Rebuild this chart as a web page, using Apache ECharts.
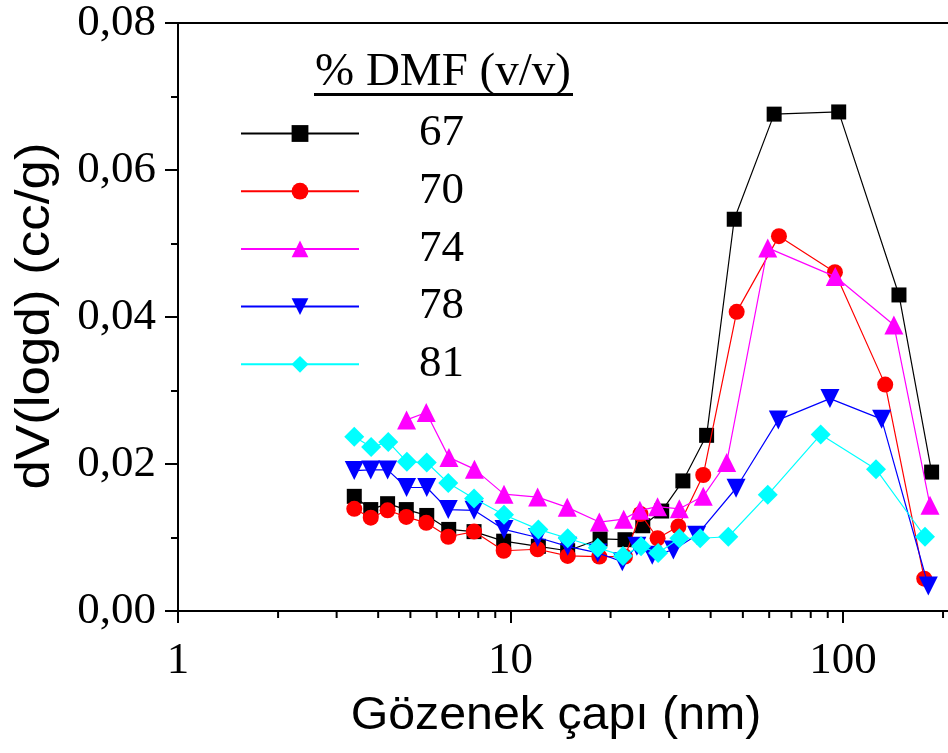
<!DOCTYPE html>
<html>
<head>
<meta charset="utf-8">
<script src="https://cdn.jsdelivr.net/npm/echarts@6/dist/echarts.min.js"></script>
<style>html,body{margin:0;padding:0;background:#fff}#c{width:948px;height:753px}</style>
</head>
<body>
<div id="c"></div>
<script>
// ---- data ----
const seriesNames = ['67', '70', '74', '78', '81'];
const legendTitle = '% DMF (v/v)';
const xTitle = 'Gözenek çapı (nm)';
const yTitle = 'dV(logd) (cc/g)';
const xMinorTickValues = [2,3,4,5,6,7,8,9,20,30,40,50,60,70,80,90,200];

const x67 = [3.39, 3.80, 4.27, 4.86, 5.60, 6.52, 7.77, 9.54, 12.13, 14.86, 18.6, 22.1, 25.0, 28.5, 33.0, 38.9, 47.1, 62.1, 97.1, 147.4, 184.8];
const y67 = [0.0156, 0.0138, 0.0146, 0.0138, 0.0130, 0.0111, 0.0108, 0.0095, 0.0088, 0.0082, 0.0098, 0.0097, 0.0116, 0.0136, 0.0177, 0.0239, 0.0533, 0.0676, 0.0679, 0.0430, 0.0189];

const x70 = [3.39, 3.80, 4.27, 4.86, 5.58, 6.50, 7.77, 9.54, 12.07, 14.86, 18.5, 22.1, 24.6, 27.7, 32.0, 38.0, 47.9, 64.2, 94.6, 134.0, 175.6];
const y70 = [0.0139, 0.0127, 0.0137, 0.0128, 0.0120, 0.0101, 0.0108, 0.0082, 0.0084, 0.0075, 0.0074, 0.0074, 0.0132, 0.0099, 0.0115, 0.0185, 0.0407, 0.0510, 0.0461, 0.0308, 0.0044];

const x74 = [4.87, 5.58, 6.53, 7.79, 9.56, 12.07, 14.82, 18.5, 21.9, 24.5, 27.7, 32.2, 38.0, 44.7, 59.4, 94.8, 142.3, 182.7];
const y74 = [0.0260, 0.0270, 0.0209, 0.0193, 0.0159, 0.0155, 0.0141, 0.0121, 0.0125, 0.0137, 0.0142, 0.0139, 0.0156, 0.0202, 0.0494, 0.0455, 0.0389, 0.0144];

const x78 = [3.39, 3.80, 4.27, 4.87, 5.60, 6.50, 7.77, 9.56, 12.07, 14.86, 18.3, 21.7, 24.0, 26.7, 30.9, 36.3, 47.7, 63.9, 91.4, 130.7, 180.6];
const y78 = [0.0191, 0.0192, 0.0192, 0.0168, 0.0168, 0.0138, 0.0137, 0.0111, 0.0100, 0.0088, 0.0079, 0.0067, 0.0088, 0.0076, 0.0083, 0.0103, 0.0167, 0.0260, 0.0289, 0.0261, 0.0034];

const x81 = [3.39, 3.81, 4.29, 4.88, 5.60, 6.50, 7.77, 9.56, 12.13, 14.86, 18.3, 21.8, 24.7, 27.8, 32.2, 37.2, 45.2, 59.4, 85.7, 125.7, 176.5];
const y81 = [0.0237, 0.0223, 0.0230, 0.0203, 0.0202, 0.0174, 0.0153, 0.0131, 0.0111, 0.0099, 0.0086, 0.0075, 0.0088, 0.0079, 0.0099, 0.0099, 0.0101, 0.0158, 0.0240, 0.0193, 0.0101];

// ---- build ----
const zip = (xs, ys) => xs.map((x, i) => [x, ys[i]]);
const serif = '"Liberation Serif", "Times New Roman", serif';
const sans = '"Liberation Sans", Arial, sans-serif';

const styles = [
  {color: '#000000', symbol: 'rect', size: 15, rotate: 0},
  {color: '#ff0000', symbol: 'circle', size: 16, rotate: 0},
  {color: '#ff00ff', symbol: 'triangle', size: 19, rotate: 0},
  {color: '#0000ff', symbol: 'triangle', size: 19, rotate: 180},
  {color: '#00ffff', symbol: 'diamond', size: 20, rotate: 0}
];
const dataSets = [zip(x67, y67), zip(x70, y70), zip(x74, y74), zip(x78, y78), zip(x81, y81)];

const lineSeries = seriesNames.map((name, i) => ({
  name: name,
  type: 'line',
  data: dataSets[i],
  symbol: styles[i].symbol,
  symbolSize: styles[i].size,
  symbolRotate: styles[i].rotate,
  showAllSymbol: true,
  color: styles[i].color,
  lineStyle: {width: 1.2, color: styles[i].color},
  itemStyle: {color: styles[i].color},
  emphasis: {disabled: true},
  animation: false,
  z: 3 + i
}));

const minorTickSeries = {
  type: 'custom',
  xAxisIndex: 0, yAxisIndex: 0,
  data: xMinorTickValues.map(v => [v, 0]),
  clip: false,
  silent: true,
  animation: false,
  renderItem: function (params, api) {
    const p = api.coord([api.value(0), 0]);
    return {
      type: 'line',
      shape: {x1: p[0], y1: p[1], x2: p[0], y2: p[1] + 7},
      style: {stroke: '#000', lineWidth: 2}
    };
  }
};

const chart = echarts.init(document.getElementById('c'), null, {renderer: 'canvas'});
chart.setOption({
  backgroundColor: '#ffffff',
  animation: false,
  grid: {left: 178, right: 0, top: 23, bottom: 142, containLabel: false},
  legend: {
    data: seriesNames,
    orient: 'vertical',
    left: 240,
    top: 111,
    padding: 0,
    itemWidth: 118,
    itemHeight: 21,
    itemGap: 12.7,
    selectedMode: false,
    textStyle: {fontFamily: serif, fontSize: 45, color: '#000', lineHeight: 40, padding: [0, 0, 0, 55]}
  },
  xAxis: [{
    type: 'log',
    logBase: 10,
    min: 1,
    max: 207,
    position: 'bottom',
    axisLine: {show: true, onZero: false, lineStyle: {color: '#000', width: 2}},
    axisTick: {show: true, inside: false, length: 12, lineStyle: {color: '#000', width: 2}},
    splitLine: {show: false},
    axisLabel: {
      fontFamily: serif, fontSize: 45, color: '#000', margin: 28, showMaxLabel: false,
      formatter: function (v) { const l = Math.log10(v); return Math.abs(l - Math.round(l)) < 1e-6 ? String(Math.round(v)) : ''; }
    }
  }, {
    type: 'log',
    logBase: 10,
    min: 1,
    max: 207,
    position: 'top',
    axisLine: {show: true, onZero: false, lineStyle: {color: '#000', width: 2}},
    axisTick: {show: false},
    axisLabel: {show: false},
    splitLine: {show: false}
  }],
  yAxis: {
    type: 'value',
    min: 0,
    max: 0.08,
    interval: 0.02,
    axisLine: {show: true, onZero: false, lineStyle: {color: '#000', width: 2}},
    axisTick: {show: true, inside: false, length: 13, lineStyle: {color: '#000', width: 2}},
    minorTick: {show: true, splitNumber: 2, length: 7, lineStyle: {color: '#000', width: 2}},
    splitLine: {show: false},
    axisLabel: {
      fontFamily: serif, fontSize: 45, color: '#000', margin: 22,
      formatter: function (v) { return v.toFixed(2).replace('.', ','); }
    }
  },
  graphic: [
    {type: 'text', x: 315, y: 73, style: {text: legendTitle, font: '47px ' + serif, fill: '#000', align: 'left', verticalAlign: 'middle'}},
    {type: 'rect', left: 314, top: 93, shape: {width: 259, height: 3}, style: {fill: '#000'}},
    {type: 'text', x: 556, y: 716, scaleX: 1.05, style: {text: xTitle, font: '46px ' + sans, fill: '#000', align: 'center', verticalAlign: 'middle'}},
    {type: 'text', x: 35, y: 316, rotation: Math.PI / 2, scaleX: 1.08, style: {text: yTitle, font: '49px ' + sans, fill: '#000', align: 'center', verticalAlign: 'middle'}}
  ],
  series: lineSeries.concat([minorTickSeries])
});
</script>
</body>
</html>
